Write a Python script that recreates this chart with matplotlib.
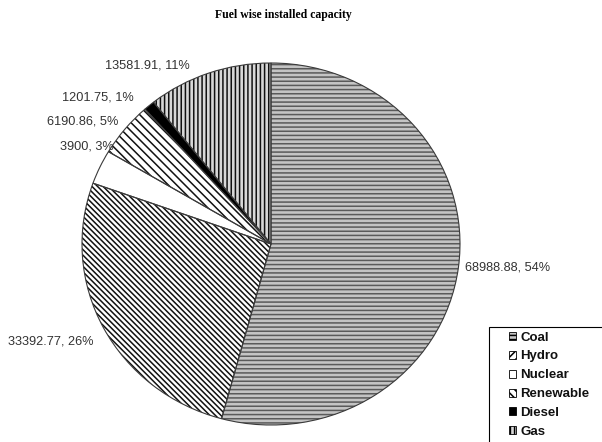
import numpy as np
import matplotlib
matplotlib.use("Agg")
import matplotlib.pyplot as plt
from matplotlib.patches import Patch, Rectangle

fuels = ["Coal", "Hydro", "Nuclear", "Renewable", "Diesel", "Gas"]
capacity = [68988.88, 33392.77, 3900, 6190.86, 1201.75, 13581.91]
cap_text = ["68988.88", "33392.77", "3900", "6190.86", "1201.75", "13581.91"]
percent = [54, 26, 3, 5, 1, 11]

plt.rcParams['font.family'] = ['Liberation Sans', 'DejaVu Sans']
plt.rcParams['hatch.linewidth'] = 1.1

fig = plt.figure(figsize=(6.02, 4.42), dpi=100)
fig.patch.set_facecolor("white")

# pie area in pixels: x 82..460, y 63..425
ax = fig.add_axes([82/602, (442-425)/442, 378/602, 362/442])

faces = ["#c4c4c4", "white", "white", "white", "black", "#d8d8d8"]
hatch_col = ["#5a5a5a", "#111111", "white", "#111111", "black", "#111111"]
hatches = ["----", "\\\\\\\\\\\\", "", "\\\\\\\\", "", "||||"]

wedges, _ = ax.pie(capacity, startangle=90, counterclock=False,
                   colors=faces, radius=1, frame=False)
for w, h, c in zip(wedges, hatches, hatch_col):
    w.set_hatch(h)
    w.set_edgecolor(c)
    w.set_linewidth(0)

# outlines
ax.pie(capacity, startangle=90, counterclock=False, radius=1, frame=False,
       wedgeprops=dict(fill=False, edgecolor="#3a3a3a", linewidth=0.8))
ax.set_xlim(-1, 1)
ax.set_ylim(-1, 1)
ax.set_aspect('auto')
ax.axis('off')

# data labels (pixel positions of label left edge / vertical centre)
label_pos = [(465, 268), (8, 341), (60, 147), (47, 121), (62, 97), (105, 66)]
for (px, py), v, p in zip(label_pos, cap_text, percent):
    fig.text(px/602, 1 - py/442, f"{v}, {p}%", fontsize=9.2, color="#333333",
             ha="left", va="center")

fig.text(283/602, 1 - 15/442, "Fuel wise installed capacity",
         fontsize=8.5, fontweight="bold", family="Liberation Serif",
         ha="center", va="center")

# legend box runs off the figure edge
fig.patches.append(Rectangle((489/602, -0.1), 0.3, 0.1 + (442-327)/442,
                             transform=fig.transFigure, facecolor="white",
                             edgecolor="black", linewidth=0.8))

leg_hatch = ["----", "////", "", "\\\\\\\\", "", "||||"]
handles = [Patch(facecolor=f, edgecolor="black", hatch=h, linewidth=0.6)
           for f, h in zip(faces, leg_hatch)]
leg = fig.legend(handles, fuels, loc="upper left",
                 bbox_to_anchor=(506/602, 1 - 329/442),
                 prop=dict(size=9.5, weight="bold"),
                 frameon=False, handlelength=0.55, handleheight=0.55,
                 handletextpad=0.35, labelspacing=0.52,
                 borderpad=0.2, borderaxespad=0)
for t in leg.get_texts():
    t.set_color("#111111")

fig.savefig("out.png", dpi=100)
